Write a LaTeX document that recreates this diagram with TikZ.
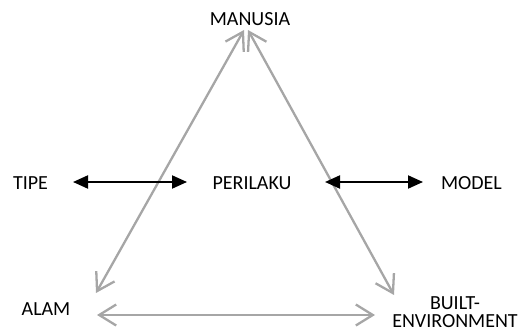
\documentclass[tikz,border=0pt]{standalone}
\usepackage{fontspec}
\setmainfont{Carlito}
\usetikzlibrary{arrows.meta}
\definecolor{linegray}{HTML}{A6A6A6}
\tikzset{
  lbl/.style={inner sep=0pt, font=\fontsize{20}{18.5}\selectfont, text=black},
  grayarrow/.style={draw=linegray, line width=2.3pt, {Straight Barb[length=17pt,width=21pt,line width=2.3pt]}-{Straight Barb[length=17pt,width=21pt,line width=2.3pt]}},
  blackarrow/.style={draw=black, line width=2pt, {Triangle[length=15pt,width=13pt]}-{Triangle[length=15pt,width=13pt]}}
}
\begin{document}
\begin{tikzpicture}[x=1pt,y=-1pt]
\useasboundingbox (0,0) rectangle (524,331);
\node[lbl] (manusia) at (250,19.5) {MANUSIA};
\node[lbl] (tipe) at (30.5,183) {TIPE};
\node[lbl] (perilaku) at (252,183) {PERILAKU};
\node[lbl] (model) at (471.5,183) {MODEL};
\node[lbl] (alam) at (46,309) {ALAM};
\node[lbl, align=center] (built) at (455,312) {BUILT-\\ENVIRONMENT};
% connector end points
\coordinate (mL) at (244,30);
\coordinate (mR) at (248,30);
\coordinate (aT) at (96,293);
\coordinate (bT) at (394,295);
\coordinate (aR) at (97,315);
\coordinate (bL) at (375,315);
\coordinate (tR) at (73,182);
\coordinate (pL) at (187,182);
\coordinate (pR) at (325,182);
\coordinate (mdL) at (423,182);
\draw[grayarrow] (aT) -- (mL);
\draw[grayarrow] (mR) -- (bT);
\draw[grayarrow] (aR) -- (bL);
\draw[blackarrow] (tR) -- (pL);
\draw[blackarrow] (pR) -- (mdL);
\end{tikzpicture}
\end{document}
